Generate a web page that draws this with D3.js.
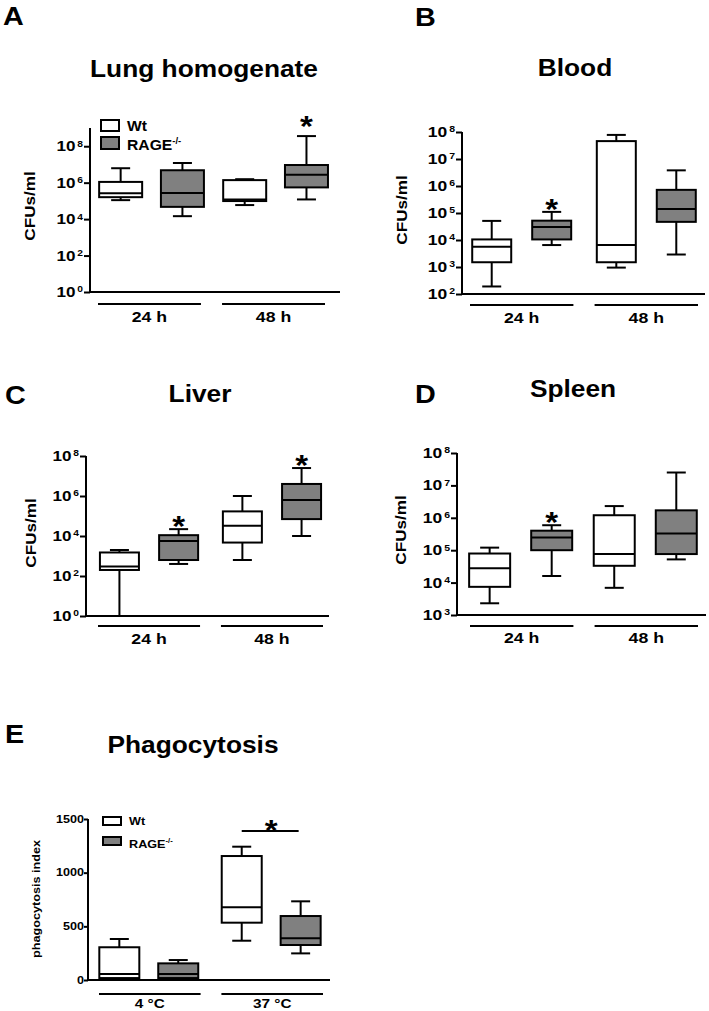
<!DOCTYPE html>
<html><head><meta charset="utf-8">
<script src="https://cdn.jsdelivr.net/npm/d3@7"></script>
<style>body{margin:0;background:#fff}svg text{font-family:"Liberation Sans",Arial,sans-serif;font-weight:bold;fill:#000}</style>
</head><body><svg id="c" width="709" height="1011"></svg>
<script>
// ---------- DATA ----------
const seriesNames = ["Wt", "RAGE"];
const timeGroups = ["24 h", "48 h"];
const tempGroups = ["4 \u00B0C", "37 \u00B0C"];
// each box: [min, q1, median, q3, max]; order: 1st group Wt, 1st group RAGE, 2nd group Wt, 2nd group RAGE
const lungBoxes  = [[1.1e5, 1.6e5, 2.6e5, 1.1e6, 6.2e6], [1.45e4, 4.7e4, 2.75e5, 4.8e6, 1.2e7], [5.9e4, 9.8e4, 1.2e5, 1.38e6, 1.55e6], [1.2e5, 5.5e5, 2.7e6, 9.3e6, 3.6e8]];
const bloodBoxes = [[190, 1500, 5600, 1.05e4, 5.1e4], [6500, 1.05e4, 3.0e4, 5.2e4, 1.1e5], [950, 1500, 6500, 4.6e7, 7.8e7], [2900, 4.7e4, 1.4e5, 7.2e5, 3.8e6]];
const liverBoxes = [[1, 200, 300, 1500, 2000], [400, 630, 5600, 1.1e4, 2.2e4], [630, 4700, 3.3e4, 1.7e5, 1.0e6], [1.0e4, 7.0e4, 6.3e5, 4.0e6, 2.5e7]];
const spleenBoxes = [[2300, 7400, 2.75e4, 7.9e4, 1.2e5], [1.6e4, 1.0e5, 2.45e5, 4.0e5, 5.9e5], [6900, 3.3e4, 7.6e4, 1.2e6, 2.3e6], [5.2e4, 7.6e4, 3.3e5, 1.7e6, 2.5e7]];
const phagoBoxes = [[8, 18, 55, 305, 382], [8, 18, 55, 155, 186], [366, 534, 677, 1155, 1242], [248, 326, 388, 596, 733]];
const lungStars = [false, false, false, true];
const bloodStars = [false, true, false, false];
const liverStars = [false, true, false, true];
const spleenStars = [false, true, false, false];
const lungTickExps = [0, 2, 4, 6, 8];
const bloodTickExps = [2, 3, 4, 5, 6, 7, 8];
const liverTickExps = [0, 2, 4, 6, 8];
const spleenTickExps = [3, 4, 5, 6, 7, 8];
const phagoTicks = [0, 500, 1000, 1500];
const panelTitles = ["Lung homogenate", "Blood", "Liver", "Spleen", "Phagocytosis"];
const panelLetters = ["A", "B", "C", "D", "E"];
const yTitles = ["CFUs/ml", "CFUs/ml", "CFUs/ml", "CFUs/ml", "phagocytosis index"];

// ---------- DRAWING ----------
const svg = d3.select("#c");
const GRAY = "#808080";

function stxt(g, x, y, str, size, sx, anchor, rot) {
  const t = g.append("text")
    .attr("transform", `translate(${x},${y})` + (rot ? ` rotate(${rot})` : "") + ` scale(${sx},1)`)
    .attr("text-anchor", anchor || "middle")
    .style("font-size", size + "px");
  if (str !== null) t.text(str);
  return t;
}

const panels = [
  {data: lungBoxes, stars: lungStars, groups: timeGroups, log: true, domain: [1, 1e9], ticks: lungTickExps,
   ax: 90, xEnd: 340, yB: 292, yT: 128, gr: [98, 325], pos: [0.22, 0.82], bw: 43, catY: 304, catLab: 322,
   title: [204, 77], letter: [3, 25], ylab: [35, 206], starGap: 17, tickFs: 14, tickSx: 1.22, legend: {x: 101, y1: 120, h1: 11, y2: 137, h2: 12, fs: 14, sx: 1.12, t1: 131, t2: 150}},
  {data: bloodBoxes, stars: bloodStars, groups: timeGroups, log: true, domain: [1e2, 1e8], ticks: bloodTickExps,
   ax: 462, xEnd: 705, yB: 294, yT: 132, gr: [470, 698], pos: [0.21, 0.79], bw: 39, catY: 305, catLab: 323,
   title: [575, 76], letter: [415, 26], ylab: [407, 210], starGap: 10, tickFs: 14, tickSx: 1.25},
  {data: liverBoxes, stars: liverStars, groups: timeGroups, log: true, domain: [1, 1e8], ticks: liverTickExps,
   ax: 86, xEnd: 329, yB: 616, yT: 456, gr: [98, 323], pos: [0.21, 0.79], bw: 39, catY: 626, catLab: 644,
   title: [200, 402], letter: [5, 404], ylab: [36, 533], starGap: 10, tickFs: 14, tickSx: 1.22},
  {data: spleenBoxes, stars: spleenStars, groups: timeGroups, log: true, domain: [1e3, 1e8], ticks: spleenTickExps,
   ax: 457, xEnd: 706, yB: 615, yT: 453, gr: [470, 698], pos: [0.19, 0.79], bw: 41, catY: 626, catLab: 643,
   title: [573, 397], letter: [415, 403], ylab: [406, 530], starGap: 10, tickFs: 14, tickSx: 1.25},
  {data: phagoBoxes, stars: [false, false, false, false], groups: tempGroups, log: false, domain: [0, 1500], ticks: phagoTicks,
   ax: 88, xEnd: 330, yB: 980, yT: 819, gr: [99, 323], pos: [0.20, 0.78], bw: 40, catY: 994, catLab: 1008,
   title: [193, 753], letter: [5, 743], ylab: [40, 899], starGap: 10, tickFs: 10.5, tickSx: 1.2,
   legend: {x: 103, y1: 817, h1: 8, y2: 837, h2: 8, fs: 11.5, sx: 1.1, t1: 825, t2: 848}, bracket: [2, 3]}
];

panels.forEach((p, pi) => {
  const g = svg.append("g");
  const y = (p.log ? d3.scaleLog() : d3.scaleLinear()).domain(p.domain).range([p.yB, p.yT]);
  const tickVals = p.log ? p.ticks.map(e => Math.pow(10, e)) : p.ticks;
  // y axis
  const axis = d3.axisLeft(y).tickValues(tickVals).tickSizeOuter(0).tickSize(p.log ? 6 : 4).tickFormat("");
  const ag = g.append("g").attr("transform", `translate(${p.ax},0)`).call(axis);
  ag.selectAll("path,line").attr("stroke", "#000").attr("stroke-width", 2);
  ag.select(".domain").attr("d", `M0,${p.yB}V${p.yT}`);
  // tick labels
  tickVals.forEach((v, i) => {
    if (p.log) {
      const t = stxt(g, p.ax - 7, y(v) + p.tickFs * 0.36, null, p.tickFs, p.tickSx, "end");
      t.append("tspan").text("10");
      t.append("tspan").attr("dx", 1.5).attr("dy", -p.tickFs * 0.33).style("font-size", (p.tickFs * 0.6) + "px").text(p.ticks[i]);
    } else {
      stxt(g, p.ax - 4, y(v) + p.tickFs * 0.36, String(v), p.tickFs, p.tickSx, "end");
    }
  });
  // x baseline
  g.append("line").attr("x1", p.ax).attr("x2", p.xEnd).attr("y1", p.yB).attr("y2", p.yB).attr("stroke", "#000").attr("stroke-width", 2);
  // groups
  const gx = d3.scaleBand().domain(p.groups).range(p.gr).paddingInner(0.17);
  const sx = d3.scalePoint().domain(seriesNames).range([gx.bandwidth() * p.pos[0], gx.bandwidth() * p.pos[1]]);
  p.groups.forEach(gn => {
    g.append("line").attr("x1", gx(gn)).attr("x2", gx(gn) + gx.bandwidth()).attr("y1", p.catY).attr("y2", p.catY).attr("stroke", "#000").attr("stroke-width", 2);
    stxt(g, gx(gn) + gx.bandwidth() / 2, p.catLab, gn, p.log ? 15 : 13, 1.18, "middle");
  });
  const centers = [];
  p.data.forEach((d, i) => {
    const gn = p.groups[Math.floor(i / 2)], sn = seriesNames[i % 2];
    const cx = gx(gn) + sx(sn);
    centers.push(cx);
    const [mn, q1, md, q3, mx] = d;
    const bg = g.append("g").attr("stroke", "#000").attr("stroke-width", 2);
    const cap = 19;
    bg.append("line").attr("x1", cx).attr("x2", cx).attr("y1", y(mx)).attr("y2", y(q3));
    bg.append("line").attr("x1", cx).attr("x2", cx).attr("y1", y(q1)).attr("y2", y(mn));
    bg.append("line").attr("x1", cx - cap / 2).attr("x2", cx + cap / 2).attr("y1", y(mx)).attr("y2", y(mx));
    bg.append("line").attr("x1", cx - cap / 2).attr("x2", cx + cap / 2).attr("y1", y(mn)).attr("y2", y(mn));
    bg.append("rect").attr("x", cx - p.bw / 2).attr("width", p.bw).attr("y", y(q3)).attr("height", y(q1) - y(q3))
      .attr("fill", i % 2 ? GRAY : "#fff");
    bg.append("line").attr("x1", cx - p.bw / 2).attr("x2", cx + p.bw / 2).attr("y1", y(md)).attr("y2", y(md));
    if (p.stars[i]) stxt(g, cx, y(mx) - p.starGap + 17, "*", 30, 1.1, "middle");
  });
  if (p.bracket) {
    const [a, b] = p.bracket;
    const by = 831;
    g.append("line").attr("x1", centers[a]).attr("x2", centers[b] - 2).attr("y1", by).attr("y2", by).attr("stroke", "#000").attr("stroke-width", 2);
    stxt(g, (centers[a] + centers[b]) / 2, by - 8 + 17, "*", 30, 1.1, "middle");
  }
  // titles
  stxt(g, p.title[0], p.title[1], panelTitles[pi], 23.5, 1.12, "middle");
  stxt(g, p.letter[0], p.letter[1], panelLetters[pi], 25, 1.15, "start");
  stxt(g, p.ylab[0], p.ylab[1], yTitles[pi], p.log ? 14.5 : 11.5, p.log ? 1.18 : 1.1, "middle", -90);
  // legend
  if (p.legend) {
    const L = p.legend;
    g.append("rect").attr("x", L.x).attr("y", L.y1).attr("width", 18).attr("height", L.h1).attr("fill", "#fff").attr("stroke", "#000").attr("stroke-width", 2);
    g.append("rect").attr("x", L.x).attr("y", L.y2).attr("width", 18).attr("height", L.h2).attr("fill", GRAY).attr("stroke", "#000").attr("stroke-width", 2);
    stxt(g, L.x + 26, L.t1, "Wt", L.fs, L.sx, "start");
    const t = stxt(g, L.x + 26, L.t2, null, L.fs, L.sx, "start");
    t.append("tspan").text("RAGE");
    t.append("tspan").attr("dy", -L.fs * 0.4).style("font-size", (L.fs * 0.6) + "px").text("-/-");
  }
});
</script></body></html>
